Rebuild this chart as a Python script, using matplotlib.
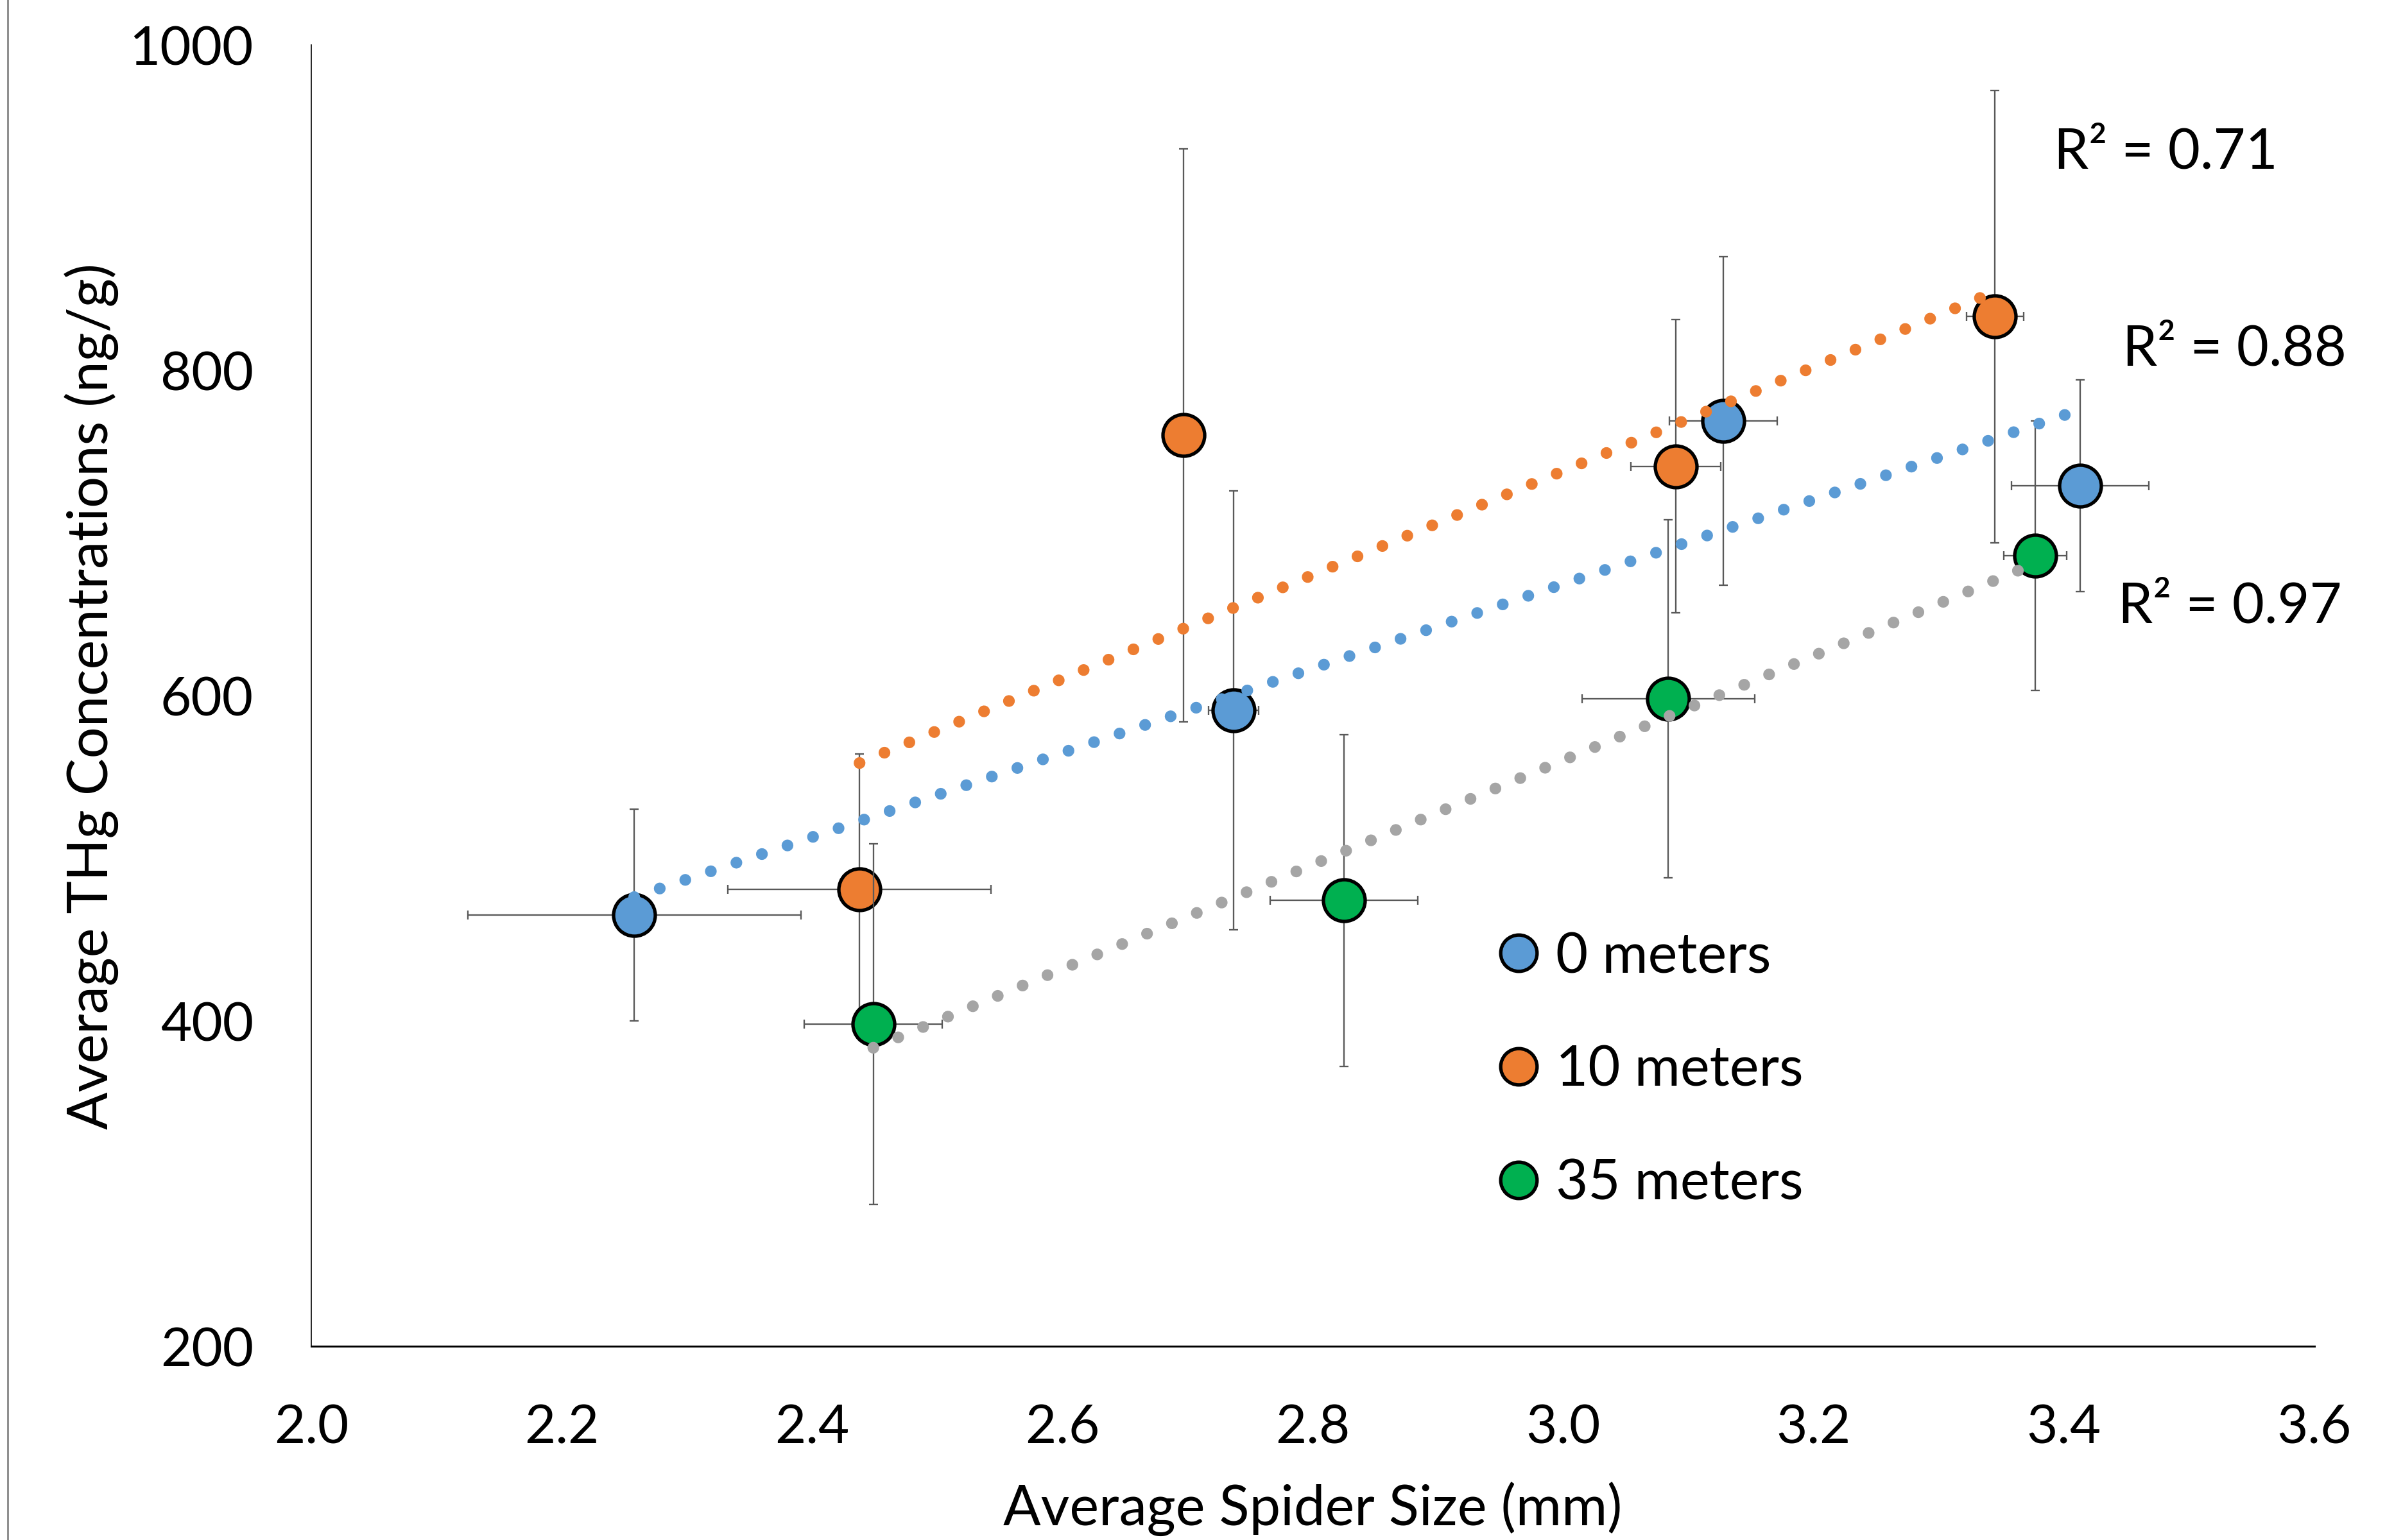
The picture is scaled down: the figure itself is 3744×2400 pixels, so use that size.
import matplotlib.pyplot as plt
import numpy as np
from matplotlib.lines import Line2D

plt.rcParams["font.family"] = ["Lato", "DejaVu Sans"]

# Average spider size (mm) and THg (ng/g), per distance from the stream
labels = ["0 meters", "10 meters", "35 meters"]
size_0m = [2.258, 2.737, 3.128, 3.413]
size_0m_err = [0.133, 0.020, 0.043, 0.055]
thg_0m = [465, 591, 769, 729]
thg_0m_err = [65, 135, 101, 65]

size_10m = [2.438, 2.697, 3.090, 3.345]
size_10m_err = [0.105, 0.010, 0.036, 0.023]
thg_10m = [481, 760, 741, 833]
thg_10m_err = [83, 176, 90, 139]

size_35m = [2.449, 2.825, 3.084, 3.377]
size_35m_err = [0.055, 0.059, 0.069, 0.025]
thg_35m = [398, 474, 598, 686]
thg_35m_err = [111, 102, 110, 83]

r2_labels = ["R\u00b2 = 0.88", "R\u00b2 = 0.71", "R\u00b2 = 0.97"]

marker_colors = ["#5B9BD5", "#ED7D31", "#00B050"]
trend_colors = ["#5B9BD5", "#ED7D31", "#A5A5A5"]
r2_pos = [(3.447, 813), (3.392, 934), (3.443, 655)]

series = [
    (size_0m, size_0m_err, thg_0m, thg_0m_err),
    (size_10m, size_10m_err, thg_10m, thg_10m_err),
    (size_35m, size_35m_err, thg_35m, thg_35m_err),
]

fig = plt.figure(figsize=(15.6, 10.004), dpi=240)
ax = fig.add_axes([0.1295, 0.1258, 0.8336, 0.8446])

for i, (x, xe, y, ye) in enumerate(series):
    ax.errorbar(x, y, xerr=xe, yerr=ye, fmt="none", ecolor="#595959",
                elinewidth=0.7, capsize=2, capthick=0.7, zorder=3 + i)
    ax.plot(x, y, "o", ms=19.5, mfc=marker_colors[i], mec="black", mew=1.6,
            ls="none", zorder=3.5 + i)

# linear trendlines (Excel style, round dots)
for i, (x, xe, y, ye) in enumerate(series):
    k, b = np.polyfit(x, y, 1)
    xs = np.array([min(x), max(x)])
    ax.plot(xs, k * xs + b, color=trend_colors[i], lw=5.5,
            ls=(0, (0.001, 2.29)), dash_capstyle="round", zorder=10)
    ax.text(r2_pos[i][0], r2_pos[i][1], r2_labels[i], fontsize=26,
            ha="left", va="center", clip_on=False)

ax.set_xlim(2.0, 3.6)
ax.set_ylim(200, 1000)
ax.set_xticks(np.arange(2.0, 3.61, 0.2))
ax.set_xticklabels([f"{v:.1f}" for v in np.arange(2.0, 3.61, 0.2)])
ax.set_yticks([200, 400, 600, 800, 1000])
ax.tick_params(length=0, labelsize=25, pad=27)

for s in ["top", "right"]:
    ax.spines[s].set_visible(False)
ax.spines["left"].set_linewidth(0.5)
ax.spines["bottom"].set_linewidth(0.9)

ax.set_xlabel("Average Spider Size (mm)", fontsize=26)
ax.set_ylabel("Average THg Concentrations (ng/g)", fontsize=26)
ax.xaxis.set_label_coords(0.5, -0.1248)
ax.yaxis.set_label_coords(-0.1096, 0.5)
ax.xaxis.label.set_va("center")
ax.yaxis.label.set_va("center")

handles = [Line2D([], [], marker="o", ls="none", ms=17, mfc=c, mec="black", mew=1.6)
           for c in marker_colors]
ax.legend(handles, labels, loc="upper left", bbox_to_anchor=(0.5915, 0.319),
          frameon=False, fontsize=26, borderpad=0, borderaxespad=0,
          handlelength=0.8, handletextpad=0.27, labelspacing=1.13)

# thin frame line on the left edge
fig.add_artist(Line2D([0.0032, 0.0032], [0, 1], color="#7f7f7f", lw=0.8))

fig.savefig("out.png", dpi=240)
